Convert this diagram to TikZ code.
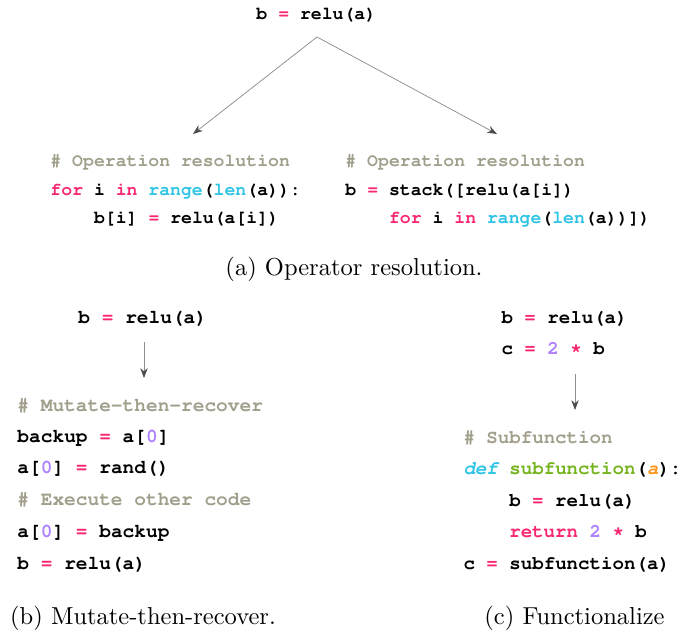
\documentclass[tikz,border=0pt]{standalone}
\usepackage[T1,TU]{fontenc}
\usetikzlibrary{arrows.meta}

\definecolor{kwpink}{HTML}{F92672}
\definecolor{fncyan}{HTML}{2EC4E4}
\definecolor{numpurple}{HTML}{AE81FF}
\definecolor{defgreen}{HTML}{76B41E}
\definecolor{argorange}{HTML}{FD971F}
\definecolor{cmtgray}{HTML}{A19F8C}

\newcommand{\cf}{\fontencoding{T1}\fontfamily{pcr}\fontseries{b}\fontshape{n}\selectfont}
\newcommand{\kw}[1]{\textcolor{kwpink}{#1}}
\newcommand{\fn}[1]{\textcolor{fncyan}{#1}}
\newcommand{\nm}[1]{\textcolor{numpurple}{#1}}
\newcommand{\cm}[1]{\textcolor{cmtgray}{#1}}

\tikzset{
	codea/.style={anchor=base west, inner sep=0pt, font=\fontsize{7.4}{9}\cf},
	codeb/.style={anchor=base west, inner sep=0pt, font=\fontsize{7.95}{9}\cf},
	codec/.style={anchor=base west, inner sep=0pt, font=\fontsize{7.8}{9}\cf},
	capt/.style={anchor=base, inner sep=0pt, font=\fontsize{10}{12}\selectfont},
	arr/.style={draw=black!45, line width=0.3pt, -{Stealth[length=4pt, width=3pt, color=black!70]}}
}

\begin{document}
\begin{tikzpicture}[x=0.408pt, y=-0.408pt]
			\useasboundingbox (0,0) rectangle (681,634);
			
			% (a) operator resolution
			\node[codea] (atop) at (256,19) {b \kw{=} relu(a)};
			\coordinate (asplit) at (317,37);
			\coordinate (aleft) at (193,134);
			\coordinate (aright) at (497,134);
			\draw[arr] (asplit) -- (aleft);
			\draw[arr] (asplit) -- (aright);
			
			\node[codea] (al1) at (50,166) {\cm{\# Operation resolution}};
			\node[codea] (al2) at (50,195) {\kw{for} i \kw{in} \fn{range}(\fn{len}(a)):};
			\node[codea] (al3) at (93.6,223) {b[i] \kw{=} relu(a[i])};
			
			\node[codea] (ar1) at (345,166) {\cm{\# Operation resolution}};
			\node[codea] (ar2) at (345,195) {b \kw{=} stack([relu(a[i])};
			\node[codea] (ar3) at (388.6,223) {\kw{for} i \kw{in} \fn{range}(\fn{len}(a))])};
			
			\node[capt] (capa) at (354,275) {(a) Operator resolution.};
			
			% (b) mutate-then-recover
			\node[codeb] (btop) at (78,323) {b \kw{=} relu(a)};
			\coordinate (bfrom) at (144,342);
			\coordinate (bto) at (144,378);
			\draw[arr] (bfrom) -- (bto);
			
			\node[codeb] (b1) at (17,411) {\cm{\# Mutate-then-recover}};
			\node[codeb] (b2) at (17,442) {backup \kw{=} a[\nm{0}]};
			\node[codeb] (b3) at (17,473) {a[\nm{0}] \kw{=} rand()};
			\node[codeb] (b4) at (17,505) {\cm{\# Execute other code}};
			\node[codeb] (b5) at (17,537) {a[\nm{0}] \kw{=} backup};
			\node[codeb] (b6) at (17,569) {b \kw{=} relu(a)};
			
			\node[capt] (capb) at (143,624) {(b) Mutate-then-recover.};
			
			% (c) functionalize
			\node[codec] (ctop1) at (501,323) {b \kw{=} relu(a)};
			\node[codec] (ctop2) at (501,354) {c \kw{=} \nm{2} \kw{*} b};
			\coordinate (cfrom) at (575,374);
			\coordinate (cto) at (575,410);
			\draw[arr] (cfrom) -- (cto);
			
			\node[codec] (c1) at (463,443) {\cm{\# Subfunction}};
			\node[codec] (c2) at (463,474) {\textcolor{fncyan}{\fontshape{sl}\selectfont def} \textcolor{defgreen}{subfunction}(\textcolor{argorange}{\fontshape{sl}\selectfont a}):};
			\node[codec] (c3) at (508.8,506) {b \kw{=} relu(a)};
			\node[codec] (c4) at (508.8,537) {\kw{return} \nm{2} \kw{*} b};
			\node[codec] (c5) at (463,569) {c \kw{=} subfunction(a)};
			
			\node[capt] (capc) at (574.5,624) {(c) Functionalize};
		\end{tikzpicture}
\end{document}
